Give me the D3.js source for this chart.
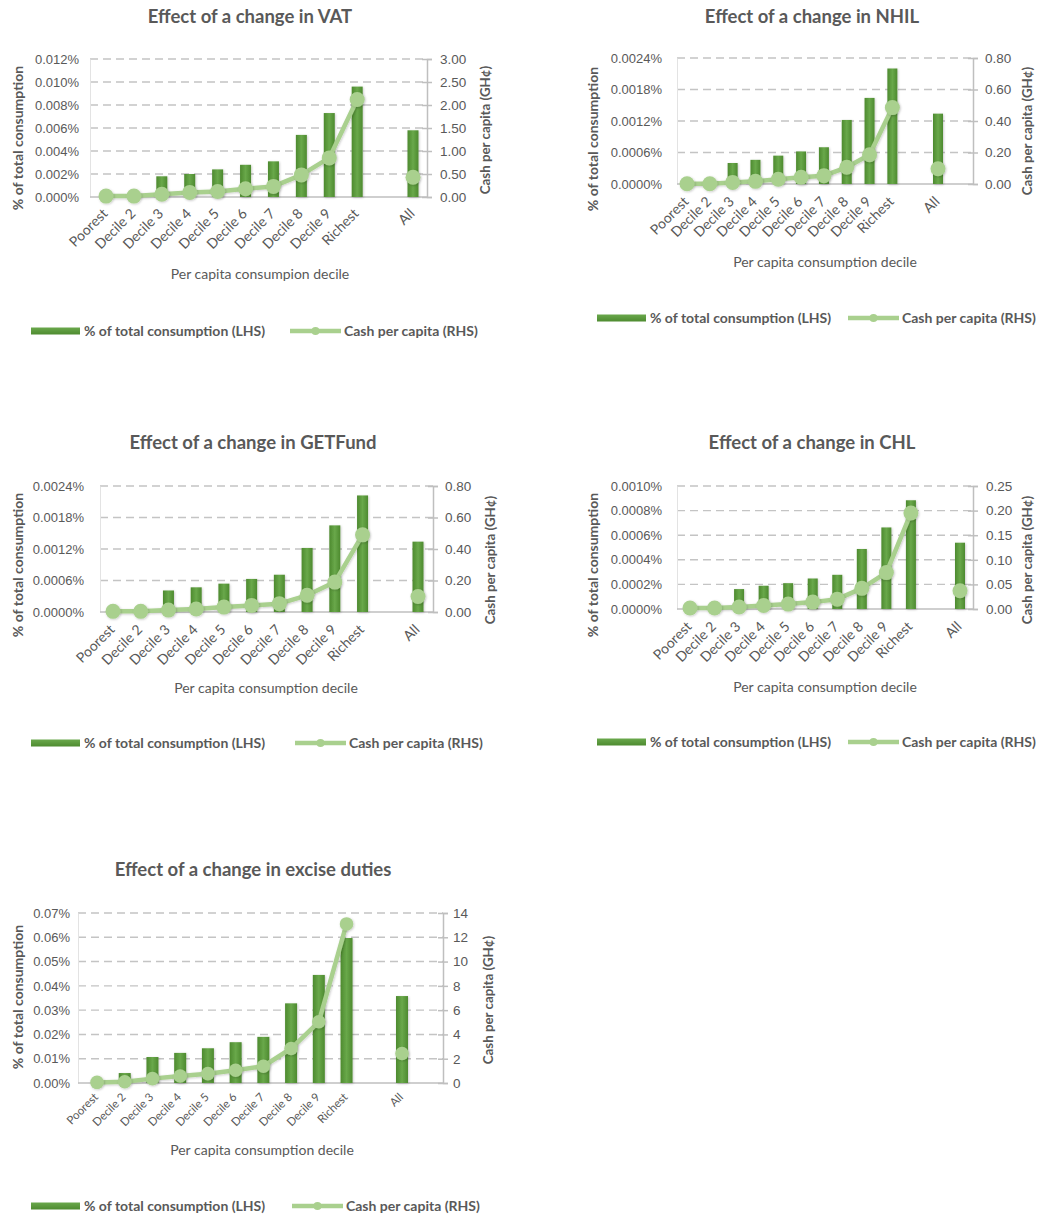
<!DOCTYPE html>
<html>
<head>
<meta charset="utf-8">
<script src="https://cdn.jsdelivr.net/npm/d3@7"></script>
<style>
  html, body { margin: 0; padding: 0; background: #ffffff; }
  svg { display: block; font-family: Lato, "Open Sans", "Liberation Sans", sans-serif; }
</style>
</head>
<body>
<svg id="chart" width="1039" height="1217"></svg>
<script>
// Household deciles, a spacer slot, then the national average
const categories = ["Poorest", "Decile 2", "Decile 3", "Decile 4", "Decile 5",
  "Decile 6", "Decile 7", "Decile 8", "Decile 9", "Richest", "", "All"];

// Share of total consumption (in %) and cash per capita (GH¢), per tax
const vatShare  = [0.0000, 0.0000, 0.0018, 0.0020, 0.0024, 0.0028, 0.0031, 0.0054, 0.0073, 0.0096, null, 0.0058];
const vatCash   = [0.02, 0.02, 0.06, 0.10, 0.12, 0.18, 0.23, 0.48, 0.85, 2.12, null, 0.43];

const nhilShare = [0.0000, 0.0000, 0.00040, 0.00046, 0.00054, 0.00062, 0.00070, 0.00122, 0.00164, 0.00220, null, 0.00134];
const nhilCash  = [0.002, 0.002, 0.010, 0.017, 0.030, 0.043, 0.053, 0.106, 0.186, 0.485, null, 0.097];

const getShare  = [0.0000, 0.0000, 0.00041, 0.00047, 0.00054, 0.00063, 0.00071, 0.00122, 0.00165, 0.00222, null, 0.00134];
const getCash   = [0.004, 0.004, 0.012, 0.019, 0.031, 0.042, 0.053, 0.106, 0.190, 0.490, null, 0.098];

const chlShare  = [0.0000, 0.0000, 0.000162, 0.000189, 0.000210, 0.000248, 0.000278, 0.000488, 0.000663, 0.000884, null, 0.000539];
const chlCash   = [0.002, 0.002, 0.004, 0.007, 0.010, 0.014, 0.020, 0.042, 0.074, 0.195, null, 0.037];

const excShare  = [0.000, 0.0041, 0.0107, 0.0124, 0.0143, 0.0168, 0.0190, 0.0328, 0.0445, 0.0597, null, 0.0358];
const excCash   = [0.05, 0.10, 0.36, 0.58, 0.77, 1.05, 1.38, 2.84, 5.04, 13.1, null, 2.43];

// Axis tick values
const vatLeftTicks  = [0, 0.002, 0.004, 0.006, 0.008, 0.010, 0.012];
const vatRightTicks = [0, 0.5, 1.0, 1.5, 2.0, 2.5, 3.0];
const nhilLeftTicks = [0, 0.0006, 0.0012, 0.0018, 0.0024];
const nhilRightTicks = [0, 0.2, 0.4, 0.6, 0.8];
const chlLeftTicks  = [0, 0.0002, 0.0004, 0.0006, 0.0008, 0.0010];
const chlRightTicks = [0, 0.05, 0.10, 0.15, 0.20, 0.25];
const excLeftTicks  = [0, 0.01, 0.02, 0.03, 0.04, 0.05, 0.06, 0.07];
const excRightTicks = [0, 2, 4, 6, 8, 10, 12, 14];

const titles = ["Effect of a change in VAT", "Effect of a change in NHIL",
  "Effect of a change in GETFund", "Effect of a change in CHL",
  "Effect of a change in excise duties"];
const xTitles = ["Per capita consumpion decile", "Per capita consumption decile",
  "Per capita consumption decile", "Per capita consumption decile",
  "Per capita consumption decile"];
const legendLabels = ["% of total consumption (LHS)", "Cash per capita (RHS)"];
const leftTitle = "% of total consumption";
const rightTitle = "Cash per capita (GH\u00a2)";

const TEXT = "#595959";
const GRID = "#c4c4c4";
const AXIS = "#bfbfbf";
const LINE = "#a9d08e";

const svg = d3.select("#chart");

// Shared gradient for the bars and legend swatches
const defs = svg.append("defs");
const g1 = defs.append("linearGradient").attr("id", "barGrad")
  .attr("x1", "0").attr("x2", "1").attr("y1", "0").attr("y2", "0");
g1.append("stop").attr("offset", "0%").attr("stop-color", "#4d8a2f");
g1.append("stop").attr("offset", "50%").attr("stop-color", "#69a84a");
g1.append("stop").attr("offset", "100%").attr("stop-color", "#4d8a2f");
const g2 = defs.append("linearGradient").attr("id", "swatchGrad")
  .attr("x1", "0").attr("x2", "0").attr("y1", "0").attr("y2", "1");
g2.append("stop").attr("offset", "0%").attr("stop-color", "#6aa84c");
g2.append("stop").attr("offset", "100%").attr("stop-color", "#4e8b30");
const sh = defs.append("filter").attr("id", "soft")
  .attr("x", "-30%").attr("y", "-30%").attr("width", "160%").attr("height", "160%");
sh.append("feDropShadow").attr("dx", 0.8).attr("dy", 0.8).attr("stdDeviation", 1.2)
  .attr("flood-color", "#000").attr("flood-opacity", 0.22);

const charts = [
  { title: titles[0], xTitle: xTitles[0], share: vatShare, cash: vatCash,
    lt: vatLeftTicks, rt: vatRightTicks, lf: v => d3.format(".3f")(v) + "%", rf: d3.format(".2f"),
    left: 90, right: 427, top: 59, bottom: 197, x0: 106, x1: 413, barW: 11, r: 7.5,
    lPad: 11, rPad: 8, labelSize: 14, labelDy: 14,
    titleX: 250, titleY: 17, xtX: 260, xtY: 274, ltX: 18, ltY: 138, rtX: 485, rtY: 130,
    legY: 331, legX: 31, legX2: 290 },
  { title: titles[1], xTitle: xTitles[1], share: nhilShare, cash: nhilCash,
    lt: nhilLeftTicks, rt: nhilRightTicks, lf: v => d3.format(".4f")(v) + "%", rf: d3.format(".2f"),
    left: 677, right: 973, top: 58, bottom: 184, x0: 687, x1: 938, barW: 10, r: 7.5,
    lPad: 15, rPad: 7, labelSize: 14, labelDy: 15,
    titleX: 812, titleY: 17, xtX: 825, xtY: 262, ltX: 593, ltY: 139, rtX: 1027, rtY: 131,
    legY: 318, legX: 597, legX2: 848 },
  { title: titles[2], xTitle: xTitles[2], share: getShare, cash: getCash,
    lt: nhilLeftTicks, rt: nhilRightTicks, lf: v => d3.format(".4f")(v) + "%", rf: d3.format(".2f"),
    left: 100, right: 433, top: 486, bottom: 612, x0: 113, x1: 418, barW: 11, r: 7.5,
    lPad: 16, rPad: 7, labelSize: 14, labelDy: 15,
    titleX: 253, titleY: 443, xtX: 266, xtY: 688, ltX: 18, ltY: 565, rtX: 490, rtY: 560,
    legY: 743, legX: 31, legX2: 295 },
  { title: titles[3], xTitle: xTitles[3], share: chlShare, cash: chlCash,
    lt: chlLeftTicks, rt: chlRightTicks, lf: v => d3.format(".4f")(v) + "%", rf: d3.format(".2f"),
    left: 677, right: 973, top: 486, bottom: 609, x0: 690, x1: 960, barW: 10, r: 7.5,
    lPad: 15, rPad: 8, labelSize: 14, labelDy: 15,
    titleX: 812, titleY: 443, xtX: 825, xtY: 687, ltX: 593, ltY: 565, rtX: 1027, rtY: 560,
    legY: 742, legX: 597, legX2: 848 },
  { title: titles[4], xTitle: xTitles[4], share: excShare, cash: excCash,
    lt: excLeftTicks, rt: excRightTicks, lf: v => d3.format(".2f")(v) + "%", rf: d3.format("d"),
    left: 78, right: 443, top: 913, bottom: 1083, x0: 97, x1: 402, barW: 12, r: 6.8,
    lPad: 8, rPad: 5, labelSize: 11.5, labelDy: 12,
    titleX: 253, titleY: 870, xtX: 262, xtY: 1150, ltX: 18, ltY: 997, rtX: 488, rtY: 1000,
    legY: 1206, legX: 31, legX2: 292 }
];

function drawChart(c) {
  const g = svg.append("g");
  const x = d3.scalePoint().domain(categories).range([c.x0, c.x1]);
  const yL = d3.scaleLinear().domain([0, c.lt[c.lt.length - 1]]).range([c.bottom, c.top]);
  const yR = d3.scaleLinear().domain([0, c.rt[c.rt.length - 1]]).range([c.bottom, c.top]);

  // Title
  g.append("text").attr("x", c.titleX).attr("y", c.titleY).attr("dy", "0.35em")
    .attr("text-anchor", "middle").attr("font-size", 18.5).attr("font-weight", 700)
    .attr("fill", TEXT).text(c.title);

  // Dashed gridlines on the left-axis ticks
  g.append("g").selectAll("line").data(c.lt.slice(1)).join("line")
    .attr("x1", c.left).attr("x2", c.right)
    .attr("y1", d => yL(d)).attr("y2", d => yL(d))
    .attr("stroke", GRID).attr("stroke-width", 1.4).attr("stroke-dasharray", "8,5");

  // Left axis (labels only, faint rule)
  const axL = d3.axisLeft(yL).tickValues(c.lt).tickFormat(c.lf).tickSize(0).tickPadding(c.lPad);
  const gl = g.append("g").attr("transform", `translate(${c.left},0)`).call(axL);
  gl.select(".domain").attr("stroke", "#e3e3e3").attr("stroke-width", 1);
  gl.selectAll("text").attr("font-size", 13).attr("fill", TEXT).attr("font-family", null);

  // Right axis with crossing tick marks
  const axR = d3.axisRight(yR).tickValues(c.rt).tickFormat(c.rf).tickSize(5).tickPadding(c.rPad);
  const gr = g.append("g").attr("transform", `translate(${c.right},0)`).call(axR);
  gr.select(".domain").attr("stroke", AXIS).attr("stroke-width", 1.5);
  gr.selectAll(".tick line").attr("x1", -5).attr("stroke", AXIS).attr("stroke-width", 1.5);
  gr.selectAll("text").attr("font-size", 13.5).attr("fill", TEXT).attr("font-family", null);

  // Category baseline
  g.append("line").attr("x1", c.left).attr("x2", c.right)
    .attr("y1", c.bottom).attr("y2", c.bottom)
    .attr("stroke", AXIS).attr("stroke-width", 1.5);

  // Category labels, slanted
  g.append("g").selectAll("text").data(categories.filter(d => d !== "")).join("text")
    .attr("transform", d => `translate(${x(d) - 1},${c.bottom + c.labelDy}) rotate(-45)`)
    .attr("text-anchor", "end").attr("dy", "0.35em")
    .attr("font-size", c.labelSize).attr("fill", TEXT).text(d => d);

  // Bars
  const idx = d3.range(categories.length).filter(i => c.share[i] !== null);
  g.append("g").attr("filter", "url(#soft)").selectAll("rect").data(idx).join("rect")
    .attr("x", i => x(categories[i]) - c.barW / 2)
    .attr("width", c.barW)
    .attr("y", i => yL(c.share[i]))
    .attr("height", i => c.bottom - yL(c.share[i]))
    .attr("fill", "url(#barGrad)");

  // Cash line across the deciles, plus the "All" marker
  const deciles = d3.range(10);
  g.append("path").datum(deciles)
    .attr("d", d3.line().x(i => x(categories[i])).y(i => yR(c.cash[i])))
    .attr("fill", "none").attr("stroke", LINE).attr("stroke-width", 4.5)
    .attr("stroke-linejoin", "round").attr("filter", "url(#soft)");
  g.append("g").attr("filter", "url(#soft)").selectAll("circle")
    .data(idx.filter(i => c.cash[i] !== null)).join("circle")
    .attr("cx", i => x(categories[i])).attr("cy", i => yR(c.cash[i]))
    .attr("r", c.r).attr("fill", LINE);

  // Axis titles
  g.append("text").attr("x", c.xtX).attr("y", c.xtY).attr("dy", "0.35em")
    .attr("text-anchor", "middle").attr("font-size", 14).attr("fill", TEXT).text(c.xTitle);
  g.append("text").attr("transform", `translate(${c.ltX},${c.ltY}) rotate(-90)`)
    .attr("dy", "0.35em").attr("text-anchor", "middle").attr("font-size", 14)
    .attr("font-weight", 700).attr("fill", TEXT).text(leftTitle);
  g.append("text").attr("transform", `translate(${c.rtX},${c.rtY}) rotate(-90)`)
    .attr("dy", "0.35em").attr("text-anchor", "middle").attr("font-size", 13.3)
    .attr("font-weight", 700).attr("fill", TEXT).text(rightTitle);

  // Legend
  const lg = g.append("g");
  lg.append("rect").attr("x", c.legX).attr("y", c.legY - 3.5).attr("width", 49).attr("height", 7)
    .attr("fill", "url(#swatchGrad)");
  lg.append("text").attr("x", c.legX + 53).attr("y", c.legY).attr("dy", "0.35em")
    .attr("font-size", 14).attr("font-weight", 700).attr("fill", TEXT).text(legendLabels[0]);
  lg.append("line").attr("x1", c.legX2).attr("x2", c.legX2 + 51)
    .attr("y1", c.legY).attr("y2", c.legY).attr("stroke", LINE).attr("stroke-width", 4.5);
  lg.append("circle").attr("cx", c.legX2 + 25.5).attr("cy", c.legY).attr("r", 4).attr("fill", LINE);
  lg.append("text").attr("x", c.legX2 + 54).attr("y", c.legY).attr("dy", "0.35em")
    .attr("font-size", 14).attr("font-weight", 700).attr("fill", TEXT).text(legendLabels[1]);
}

charts.forEach(drawChart);
</script>
</body>
</html>
